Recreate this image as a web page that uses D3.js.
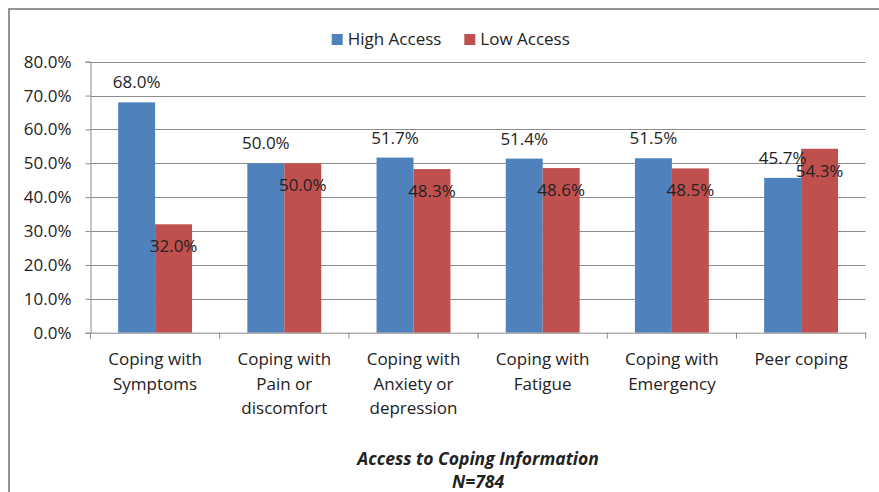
<!DOCTYPE html>
<html>
<head>
<meta charset="utf-8">
<script src="https://cdn.jsdelivr.net/npm/d3@7"></script>
<style>
  html, body { margin: 0; padding: 0; background: #fff; }
  svg { display: block; }
  text { font-family: "Open Sans", "Lato", sans-serif; fill: #222; }
</style>
</head>
<body>
<svg id="chart" width="879" height="492"></svg>
<script>
const categories = [
  ["Coping with", "Symptoms"],
  ["Coping with", "Pain or", "discomfort"],
  ["Coping with", "Anxiety or", "depression"],
  ["Coping with", "Fatigue"],
  ["Coping with", "Emergency"],
  ["Peer coping"]
];
const seriesNames = ["High Access", "Low Access"];
const highAccess = [68.0, 50.0, 51.7, 51.4, 51.5, 45.7];
const lowAccess = [32.0, 50.0, 48.3, 48.6, 48.5, 54.3];
const yTicks = [0, 10, 20, 30, 40, 50, 60, 70, 80];
const titleLines = ["Access to Coping Information", "N=784"];
const colors = ["#4F81BD", "#C0504D"];

const svg = d3.select("#chart");
const pLeft = 90.5, pRight = 865.7, pTop = 61.7, pBottom = 332.7;
const fs = "17px";

// outer border
svg.append("rect").attr("x", 9).attr("y", 9).attr("width", 900).attr("height", 600)
  .attr("fill", "none").attr("stroke", "#8a8a8a").attr("stroke-width", 1.8);

const x = d3.scaleBand().domain(d3.range(categories.length)).range([pLeft, pRight]).paddingInner(0).paddingOuter(0);
const y = d3.scaleLinear().domain([0, 80]).range([pBottom, pTop]);
const barW = x.bandwidth() * 0.286;

// gridlines
svg.append("g").selectAll("line").data(yTicks.filter(d => d > 0)).join("line")
  .attr("x1", pLeft).attr("x2", pRight)
  .attr("y1", d => Math.round(y(d)) + 0.5).attr("y2", d => Math.round(y(d)) + 0.5)
  .attr("stroke", "#8c8c8c").attr("stroke-width", 1);

// y axis
const yAxis = d3.axisLeft(y).tickValues(yTicks).tickFormat(d => d.toFixed(1) + "%").tickSize(5).tickPadding(14);
const gy = svg.append("g").attr("transform", `translate(${pLeft},0)`).call(yAxis);
gy.select(".domain").attr("stroke", "#8c8c8c");
gy.selectAll(".tick line").attr("stroke", "#8c8c8c");
gy.selectAll(".tick text").style("font-size", fs).attr("fill", "#222");

// bars
const data = categories.map((c, i) => ({ i, vals: [highAccess[i], lowAccess[i]] }));
const groups = svg.append("g").selectAll("g").data(data).join("g");
groups.selectAll("rect").data(d => d.vals.map((v, s) => ({ i: d.i, v, s }))).join("rect")
  .attr("x", d => x(d.i) + x.bandwidth() / 2 - barW + d.s * barW)
  .attr("width", barW)
  .attr("y", d => y(d.v))
  .attr("height", d => y(0) - y(d.v))
  .attr("fill", d => colors[d.s]);

// value labels
groups.selectAll("text.val").data(d => d.vals.map((v, s) => ({ i: d.i, v, s }))).join("text")
  .attr("class", "val")
  .attr("x", d => x(d.i) + x.bandwidth() / 2 - barW + d.s * barW + barW / 2)
  .attr("y", d => d.s === 0 ? y(d.v) - 14 : y(d.v) + 28)
  .attr("text-anchor", "middle")
  .style("font-size", fs)
  .text(d => d.v.toFixed(1) + "%");

// x axis
const xAxis = d3.axisBottom(x).tickValues([]).tickSize(0);
const gx = svg.append("g").attr("transform", `translate(0,${pBottom})`).call(xAxis);
gx.select(".domain").attr("stroke", "#8c8c8c");
const bounds = d3.range(categories.length + 1).map(i => pLeft + i * x.bandwidth());
gx.selectAll("line.tk").data(bounds).join("line").attr("class", "tk")
  .attr("x1", d => d).attr("x2", d => d).attr("y1", 0).attr("y2", 6)
  .attr("stroke", "#8c8c8c");

const cat = svg.append("g").selectAll("text").data(categories).join("text")
  .attr("x", (d, i) => x(i) + x.bandwidth() / 2)
  .attr("y", 365)
  .attr("text-anchor", "middle")
  .style("font-size", fs);
cat.selectAll("tspan").data(d => d).join("tspan")
  .attr("x", function() { return d3.select(this.parentNode).attr("x"); })
  .attr("dy", (d, j) => j === 0 ? 0 : 24.5)
  .text(d => d);

// legend
const legX = [331.7, 464.3];
const leg = svg.append("g").selectAll("g").data(seriesNames).join("g")
  .attr("transform", (d, i) => `translate(${legX[i]},34)`);
leg.append("rect").attr("width", 11).attr("height", 11).attr("fill", (d, i) => colors[i]);
leg.append("text").attr("x", 16).attr("y", 11).style("font-size", fs).text(d => d);

// title
svg.append("g").selectAll("text").data(titleLines).join("text")
  .attr("x", (pLeft + pRight) / 2)
  .attr("y", (d, i) => 465 + i * 23)
  .attr("text-anchor", "middle")
  .style("font-size", "17.5px").style("font-weight", "bold").style("font-style", "italic")
  .text(d => d);
</script>
</body>
</html>
